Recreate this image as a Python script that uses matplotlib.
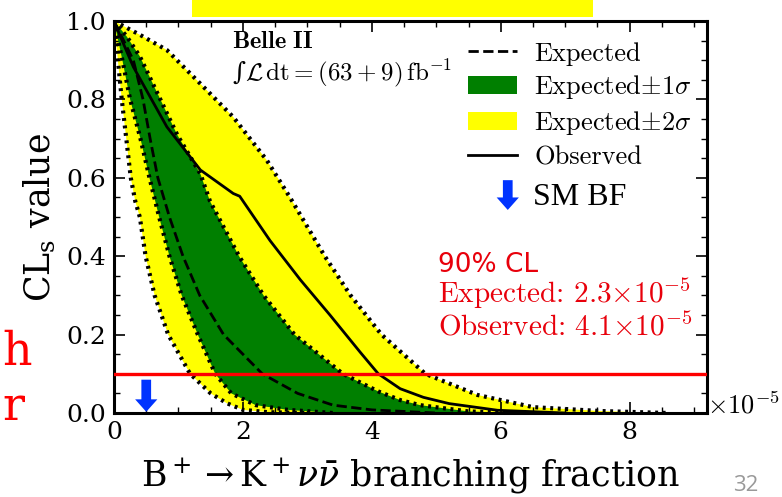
import numpy as np
import matplotlib.pyplot as plt
from matplotlib.patches import Rectangle
from matplotlib.lines import Line2D
from matplotlib.patches import Patch

# CLs scan values (x in units of 1e-5)
yel_lo_x = [0.0, 0.06, 0.12, 0.19, 0.26, 0.33, 0.40, 0.49, 0.63, 0.84, 1.18, 1.50, 1.75, 2.0, 2.4, 3.0]
yel_lo_y = [1.0, 0.90, 0.80, 0.70, 0.60, 0.54, 0.50, 0.40, 0.30, 0.20, 0.10, 0.05, 0.025, 0.008, 0.002, 0.0]

grn_lo_x = [0.0, 0.13, 0.25, 0.41, 0.55, 0.70, 0.86, 1.05, 1.30, 1.57, 1.82, 2.2, 2.7, 3.4]
grn_lo_y = [1.0, 0.90, 0.80, 0.70, 0.60, 0.50, 0.40, 0.30, 0.20, 0.10, 0.05, 0.02, 0.008, 0.0]

exp_x = [0.0, 0.30, 0.45, 0.56, 0.68, 0.86, 1.07, 1.33, 1.70, 2.30, 2.85, 3.40, 4.0, 5.0]
exp_y = [1.0, 0.90, 0.80, 0.70, 0.60, 0.50, 0.40, 0.30, 0.20, 0.10, 0.05, 0.02, 0.008, 0.0]

grn_hi_x = [0.0, 0.2, 0.4, 0.98, 1.34, 1.49, 1.94, 2.32, 2.80, 3.55, 4.10, 4.44, 4.75, 5.5, 6.2]
grn_hi_y = [1.0, 0.96, 0.91, 0.71, 0.61, 0.54, 0.40, 0.30, 0.20, 0.10, 0.055, 0.033, 0.02, 0.004, 0.0]

yel_hi_x = [0.0, 0.4, 0.82, 1.34, 1.85, 2.37, 2.73, 3.27, 3.67, 4.15, 4.83, 5.64, 6.5, 7.55, 8.6]
yel_hi_y = [1.0, 0.965, 0.926, 0.84, 0.755, 0.645, 0.55, 0.40, 0.30, 0.20, 0.10, 0.046, 0.015, 0.005, 0.0]

obs_x = [0.0, 0.1, 0.3, 0.82, 1.34, 1.85, 1.95, 2.42, 2.89, 3.35, 3.82, 4.10, 4.44, 4.8, 5.2, 5.95, 7.0]
obs_y = [1.0, 0.96, 0.883, 0.73, 0.62, 0.56, 0.553, 0.44, 0.34, 0.25, 0.155, 0.10, 0.062, 0.04, 0.024, 0.007, 0.0]

cl_level = 0.1
sm_bf = 0.5
exp_limit = 2.3
obs_limit = 4.1

plt.rcParams['mathtext.fontset'] = 'cm'
plt.rcParams['font.family'] = 'DejaVu Serif'

fig = plt.figure(figsize=(7.82, 4.97), dpi=100)
ax = fig.add_axes([0.1458, 0.169, 0.7583, 0.7887])

# bands
ax.fill(np.concatenate([yel_lo_x, yel_hi_x[::-1]]), np.concatenate([yel_lo_y, yel_hi_y[::-1]]),
        color='#ffff00', lw=0, zorder=1)
ax.fill(np.concatenate([grn_lo_x, grn_hi_x[::-1]]), np.concatenate([grn_lo_y, grn_hi_y[::-1]]),
        color='#007f00', lw=0, zorder=2)
for xs, ys in [(yel_lo_x, yel_lo_y), (yel_hi_x, yel_hi_y), (grn_lo_x, grn_lo_y), (grn_hi_x, grn_hi_y)]:
    ax.plot(xs, ys, color='black', lw=3, linestyle=(0, (0.7, 1.1)), zorder=3)

ax.plot(exp_x, exp_y, color='black', lw=2, linestyle='--', zorder=4)
ax.plot(obs_x, obs_y, color='black', lw=2, zorder=4)
ax.axhline(cl_level, color='#ff0000', lw=2.4, zorder=5)

# SM branching fraction arrow
ax.annotate('', xy=(sm_bf, 0.003), xytext=(sm_bf, 0.085),
            arrowprops=dict(arrowstyle='simple,head_length=0.9,head_width=1.6,tail_width=0.7',
                            color='#0033ff', lw=0, shrinkA=0, shrinkB=0, mutation_scale=10),
            zorder=6)

ax.set_xlim(0, 9.2)
ax.set_ylim(0, 1.0)
ax.set_xticks([0, 2, 4, 6, 8])
ax.set_xticks(np.arange(0, 9.2, 0.5), minor=True)
ax.set_yticks([0.0, 0.2, 0.4, 0.6, 0.8, 1.0])
ax.set_yticks(np.arange(0, 1.0, 0.05), minor=True)
ax.set_yticklabels(['0.0', '0.2', '0.4', '0.6', '0.8', '1.0'])
ax.tick_params(which='both', direction='in', top=True, right=True, labelsize=18, pad=6)
ax.tick_params(which='major', length=8, width=1.2)
ax.tick_params(which='minor', length=4, width=1)
for sp in ax.spines.values():
    sp.set_linewidth(2.2)

ax.set_xlabel(r'$\mathrm{B}^+ \rightarrow \mathrm{K}^+ \nu\bar{\nu}$ branching fraction',
              fontsize=25, math_fontfamily='dejavuserif', labelpad=8)
ax.set_ylabel(r'CL$_\mathrm{s}$ value', fontsize=25, math_fontfamily='dejavuserif', labelpad=6)
ax.text(1.0, 0.0, r'$\times10^{-5}$', transform=ax.transAxes, fontsize=19,
        ha='left', va='baseline')

ax.text(0.199, 0.932, r'$\mathbf{Belle\ II}$', transform=ax.transAxes, fontsize=17.5)
ax.text(0.199, 0.848, '\u222b' + r'$\mathcal{L}\,\mathrm{dt} = (63+9)\,\mathrm{fb}^{-1}$',
        transform=ax.transAxes, fontsize=18)

handles = [Line2D([], [], color='black', ls='--', lw=2),
           Patch(color='#007f00', lw=0),
           Patch(color='#ffff00', lw=0),
           Line2D([], [], color='black', lw=2)]
labels = ['Expected', r'Expected$\pm1\sigma$', r'Expected$\pm2\sigma$', 'Observed']
ax.legend(handles, labels, loc='upper left', bbox_to_anchor=(0.597, 0.947), frameon=False,
          prop={'family': 'cmr10', 'size': 19}, borderpad=0, borderaxespad=0,
          handlelength=1.85, handletextpad=0.65, labelspacing=0.3)

ax.annotate('', xy=(0.664, 0.518), xytext=(0.664, 0.594), xycoords='axes fraction',
            arrowprops=dict(arrowstyle='simple,head_length=0.9,head_width=1.6,tail_width=0.7',
                            color='#0033ff', lw=0, shrinkA=0, shrinkB=0, mutation_scale=10))
ax.text(0.707, 0.531, 'SM BF', transform=ax.transAxes, fontsize=23, family='Liberation Serif')

ax.text(0.546, 0.36, '90% CL', transform=ax.transAxes, fontsize=19, color='#e8000b',
        family='DejaVu Sans')
ax.text(0.546, 0.281, r'Expected: $%.1f{\times}10^{-5}$' % exp_limit,
        transform=ax.transAxes, fontsize=21, color='#e8000b', family='cmr10')
ax.text(0.546, 0.199, r'Observed: $%.1f{\times}10^{-5}$' % obs_limit,
        transform=ax.transAxes, fontsize=21, color='#e8000b', family='cmr10')

# slide remnants around the plot
fig.patches.append(Rectangle((192 / 782, 1 - 17 / 497), 401 / 782, 17 / 497,
                             transform=fig.transFigure, color='#ffff00', lw=0))
fig.text(0.003, 1 - 365 / 497, 'h', fontsize=33, color='#ff0000', ha='left', va='baseline')
fig.text(0.003, 1 - 420 / 497, 'r', fontsize=33, color='#ff0000', ha='left', va='baseline')
fig.text(733 / 782, 1 - 491 / 497, '32', fontsize=16, color='#999999', family='Open Sans',
         ha='left', va='baseline')

fig.savefig('out.png', dpi=100)
